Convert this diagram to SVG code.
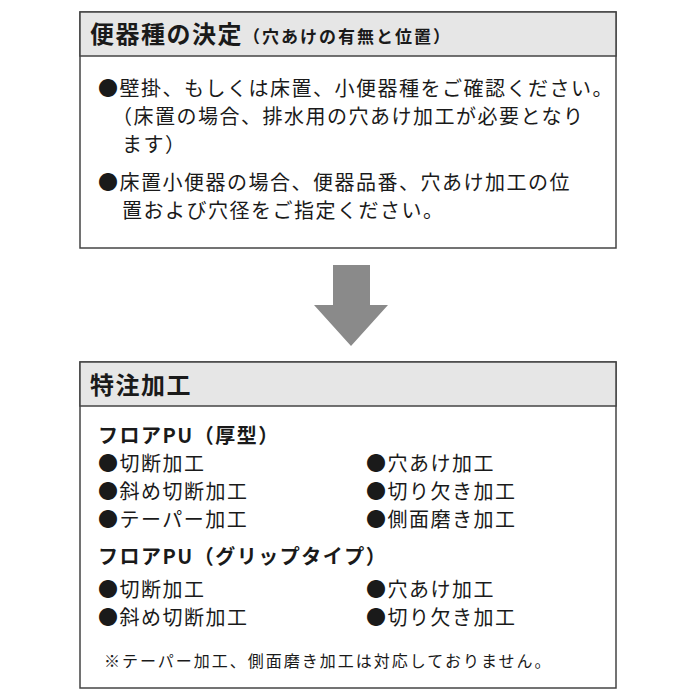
<svg xmlns="http://www.w3.org/2000/svg" width="700" height="700" viewBox="0 0 700 700">
<style>
text{font-family:"Noto Sans CJK JP","Noto Sans",sans-serif;fill:#1a1a1a}
.box{fill:#fff;stroke:#444;stroke-width:1.5}
.hd{fill:#e6e6e6;stroke:#444;stroke-width:1.5}
.b{font-size:20px;letter-spacing:1.5px}
.h{font-size:24px;font-weight:bold;letter-spacing:1.5px}
</style>
<rect width="700" height="700" fill="#fff"/>
<g id="node-decision">
<rect class="box" x="80" y="12" width="536" height="236"/>
<rect class="hd" x="80" y="12" width="536" height="44"/>
<text x="90" y="43" class="h">便器種の決定<tspan font-size="17" letter-spacing="2">（穴あけの有無と位置）</tspan></text>
<text x="98" y="96" class="b">●壁掛、もしくは床置、小便器種をご確認ください。</text>
<text x="112" y="124" class="b">（床置の場合、排水用の穴あけ加工が必要となり</text>
<text x="122" y="152" class="b">ます）</text>
<text x="98" y="190" class="b">●床置小便器の場合、便器品番、穴あけ加工の位</text>
<text x="122" y="218" class="b">置および穴径をご指定ください。</text>
</g>
<g id="connectors">
<polygon points="333,265 370,265 370,305 388,305 351,346 314,305 333,305" fill="#8a8a8a"/>
</g>
<g id="node-special">
<rect class="box" x="80" y="362" width="536" height="326"/>
<rect class="hd" x="80" y="362" width="536" height="44"/>
<text x="90" y="394" class="h">特注加工</text>
<text x="98" y="443" class="b" font-weight="bold">フロアPU（厚型）</text>
<text x="98" y="471" class="b">●切断加工</text>
<text x="366" y="471" class="b">●穴あけ加工</text>
<text x="98" y="499" class="b">●斜め切断加工</text>
<text x="366" y="499" class="b">●切り欠き加工</text>
<text x="98" y="527" class="b">●テーパー加工</text>
<text x="366" y="527" class="b">●側面磨き加工</text>
<text x="98" y="564" class="b" font-weight="bold">フロアPU（グリップタイプ）</text>
<text x="98" y="597" class="b">●切断加工</text>
<text x="366" y="597" class="b">●穴あけ加工</text>
<text x="98" y="625" class="b">●斜め切断加工</text>
<text x="366" y="625" class="b">●切り欠き加工</text>
<text x="104" y="667" font-size="16" letter-spacing="2">※テーパー加工、側面磨き加工は対応しておりません。</text>
</g>
</svg>
